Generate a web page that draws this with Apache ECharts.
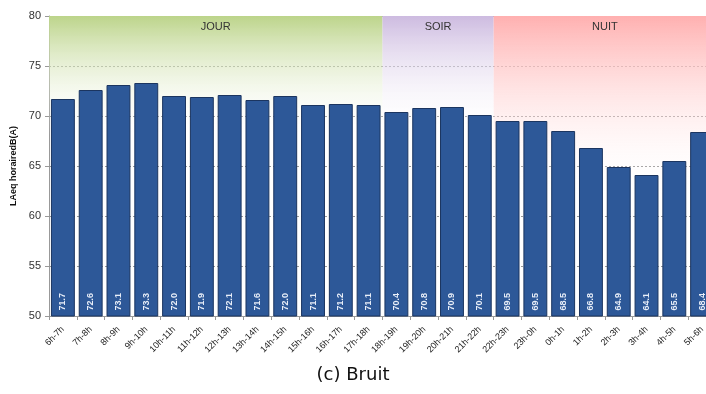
<!DOCTYPE html>
<html>
<head>
<meta charset="utf-8">
<script src="https://cdn.jsdelivr.net/npm/echarts@6/dist/echarts.min.js"></script>
<style>
  html, body { margin: 0; padding: 0; background: #fff; }
  #chart { width: 706px; height: 394px; }
</style>
</head>
<body>
<div id="chart"></div>
<script>
// periodes horaires
var hours = ['6h-7h', '7h-8h', '8h-9h', '9h-10h', '10h-11h', '11h-12h', '12h-13h', '13h-14h',
    '14h-15h', '15h-16h', '16h-17h', '17h-18h', '18h-19h', '19h-20h', '20h-21h', '21h-22h',
    '22h-23h', '23h-0h', '0h-1h', '1h-2h', '2h-3h', '3h-4h', '4h-5h', '5h-6h'];
var laeq = [71.7, 72.6, 73.1, 73.3, 72.0, 71.9, 72.1, 71.6, 72.0, 71.1, 71.2, 71.1,
    70.4, 70.8, 70.9, 70.1, 69.5, 69.5, 68.5, 66.8, 64.9, 64.1, 65.5, 68.4];
// periodes : nom, premiere et derniere heure
var periods = [
    { name: 'JOUR', from: '6h-7h', to: '17h-18h', color: '#bcd48a' },
    { name: 'SOIR', from: '18h-19h', to: '21h-22h', color: '#cdbbe0' },
    { name: 'NUIT', from: '22h-23h', to: '5h-6h', color: '#ffb0b0' }
];

function fade(c, stop) {
    return {
        type: 'linear', x: 0, y: 0, x2: 0, y2: 1,
        colorStops: [
            { offset: 0, color: c },
            { offset: stop, color: 'rgba(255,255,255,0)' },
            { offset: 1, color: 'rgba(255,255,255,0)' }
        ]
    };
}

// zones sur un axe de valeurs cache (0..24) pour aller de bord a bord des categories
var areas = periods.map(function (p, i) {
    return [
        { xAxis: hours.indexOf(p.from), yAxis: 80, name: p.name,
          itemStyle: { color: fade(p.color, i === 2 ? 0.6 : 0.4) } },
        { xAxis: hours.indexOf(p.to) + 1, yAxis: 50 }
    ];
});

var chart = echarts.init(document.getElementById('chart'));
chart.setOption({
    animation: false,
    textStyle: { fontFamily: 'Liberation Sans, Arial, sans-serif' },
    title: {
        text: '(c) Bruit',
        left: 'center',
        top: 361,
        textStyle: { fontFamily: 'DejaVu Sans', fontSize: 18, fontWeight: 'normal', color: '#111' }
    },
    // la derniere barre est coupee par le bord droit, comme dans l'original
    grid: { left: 49, width: 667, top: 16, height: 300, outerBoundsMode: 'none' },
    xAxis: [{
        type: 'category',
        data: hours,
        axisLine: { lineStyle: { color: '#999' } },
        axisTick: { show: true, length: 4, lineStyle: { color: '#999' } },
        axisLabel: { rotate: 45, fontSize: 9, color: '#222', interval: 0, margin: 12 }
    }, {
        type: 'value',
        min: 0, max: 24,
        show: false
    }],
    yAxis: {
        type: 'value',
        min: 50, max: 80, interval: 5,
        name: 'LAeq horairedB(A)',
        nameLocation: 'middle',
        nameGap: 28,
        nameTextStyle: { fontSize: 9, fontWeight: 'bold', color: '#111' },
        axisLine: { show: true, lineStyle: { color: '#999' } },
        axisTick: { show: true, length: 4, lineStyle: { color: '#999' } },
        axisLabel: { fontSize: 11, color: '#333', margin: 8 },
        splitLine: { show: true, lineStyle: { color: '#999', type: [2, 2], width: 1 } }
    },
    series: [{
        type: 'line',
        xAxisIndex: 1,
        data: [],
        markArea: {
            silent: true,
            label: { position: 'insideTop', distance: 5, fontSize: 11, color: '#333' },
            data: areas
        },
        z: 1
    }, {
        type: 'bar',
        data: laeq,
        barCategoryGap: '14%',
        itemStyle: { color: '#2d5898', borderColor: '#1b3560', borderWidth: 1 },
        label: {
            show: true,
            position: 'insideBottom',
            rotate: 90,
            align: 'left',
            verticalAlign: 'middle',
            distance: 6,
            fontSize: 9,
            fontWeight: 'bold',
            color: '#e8eef8',
            formatter: function (p) { return p.value.toFixed(1); }
        },
        z: 3
    }]
});
</script>
</body>
</html>
